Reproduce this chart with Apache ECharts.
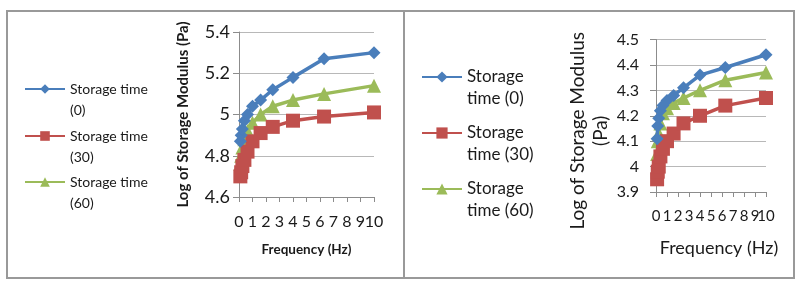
<!DOCTYPE html>
<html>
<head>
<meta charset="utf-8">
<style>
  html, body { margin: 0; padding: 0; background: #fff; }
  #chart { width: 800px; height: 288px; }
</style>
<script src="https://cdn.jsdelivr.net/npm/echarts@6/dist/echarts.min.js"></script>
</head>
<body>
<div id="chart"></div>
<script>
// frequency sweep points (Hz)
var freq = [0.1, 0.16, 0.25, 0.4, 0.63, 1, 1.6, 2.5, 4, 6.3, 10];
var seriesNames = ['Storage time (0)', 'Storage time (30)', 'Storage time (60)'];
var xTicks = [0, 1, 2, 3, 4, 5, 6, 7, 8, 9, 10];

// left panel
var leftT0 = [4.87, 4.90, 4.93, 4.97, 5.00, 5.04, 5.07, 5.12, 5.18, 5.27, 5.30];
var leftT30 = [4.70, 4.72, 4.75, 4.78, 4.82, 4.87, 4.91, 4.94, 4.97, 4.99, 5.01];
var leftT60 = [4.76, 4.80, 4.84, 4.88, 4.92, 4.96, 5.00, 5.04, 5.07, 5.10, 5.14];
var leftYTicks = [4.6, 4.8, 5, 5.2, 5.4];

// right panel
var rightT0 = [4.11, 4.16, 4.19, 4.22, 4.24, 4.26, 4.28, 4.31, 4.36, 4.39, 4.44];
var rightT30 = [3.95, 3.98, 4.00, 4.04, 4.07, 4.10, 4.13, 4.17, 4.20, 4.24, 4.27];
var rightT60 = [4.05, 4.10, 4.13, 4.17, 4.21, 4.23, 4.25, 4.27, 4.30, 4.34, 4.37];
var rightYTicks = [3.9, 4, 4.1, 4.2, 4.3, 4.4, 4.5];

var colors = ['#4a7ebb', '#c0504d', '#9bbb59'];
var symbols = ['diamond', 'rect', 'triangle'];
var symbolSizes = [13, 14, 14];
var font = 'Lato, "Open Sans", sans-serif';
var textColor = '#1a1a1a';

function pairs(ys) {
  return ys.map(function (y, i) { return [freq[i], y]; });
}

// parity 0 = main axis (line, ticks, even labels); parity 1 = overlay carrying only the odd labels,
// so that ECharts' overlap hiding keeps every label of the tightly packed axis
function xAxisFor(gridIndex, parity, labelSize, labelMargin, nameStyle, gap, name) {
  var main = parity === 0;
  return {
    type: 'value', gridIndex: gridIndex, position: 'bottom', min: 0, max: 10, interval: 1,
    name: main ? name : '', nameLocation: 'middle', nameGap: gap,
    nameTextStyle: nameStyle,
    splitLine: { show: false },
    axisLine: { show: main, onZero: false, lineStyle: { color: '#8c8c8c', width: 1 } },
    axisTick: { show: main, length: 5, lineStyle: { color: '#8c8c8c' } },
    axisLabel: {
      fontFamily: font, fontSize: labelSize, color: textColor, margin: labelMargin,
      hideOverlap: false, showMinLabel: true, showMaxLabel: true,
      formatter: function (v) {
        var k = Math.round(v);
        return xTicks.indexOf(k) >= 0 && k % 2 === parity ? String(k) : '';
      }
    }
  };
}

function yAxisFor(gridIndex, ticks, interval, name, labelSize, nameStyle, gap, margin) {
  return {
    type: 'value', gridIndex: gridIndex,
    min: ticks[0], max: ticks[ticks.length - 1], interval: interval,
    name: name, nameLocation: 'middle', nameGap: gap,
    nameTextStyle: nameStyle,
    axisLine: { show: true, lineStyle: { color: '#8c8c8c', width: 1 } },
    axisTick: { show: true, length: 6, lineStyle: { color: '#8c8c8c' } },
    splitLine: { show: true, lineStyle: { color: '#b8b8b8', width: 1 } },
    axisLabel: {
      fontFamily: font, fontSize: labelSize, color: textColor, margin: margin,
      formatter: function (v) { return String(+v.toFixed(1)); }
    }
  };
}

var leftData = [leftT0, leftT30, leftT60];
var rightData = [rightT0, rightT30, rightT60];
var series = [];
[leftData, rightData].forEach(function (set, panel) {
  set.forEach(function (ys, i) {
    series.push({
      name: seriesNames[i], type: 'line',
      xAxisIndex: panel, yAxisIndex: panel,
      data: pairs(ys),
      symbol: symbols[i], symbolSize: symbolSizes[i],
      showAllSymbol: true,
      lineStyle: { color: colors[i], width: 3.5 },
      itemStyle: { color: colors[i] },
      z: 3 - i
    });
  });
});

// one legend per entry; a leading blank line keeps the marker on the first text line
var legends = [];
var leftLegendY = [89, 136, 182];
var rightLegendY = [77, 133, 189];
seriesNames.forEach(function (n, i) {
  var lh = 21;
  legends.push({
    data: [n], left: 24, top: leftLegendY[i] - 1.5 * lh, padding: 0,
    itemWidth: 40, itemHeight: 12, itemGap: 0,
    textStyle: { fontFamily: font, fontSize: 14, color: textColor, lineHeight: lh },
    formatter: function (name) { return '\n' + name.replace(' (', '\n('); }
  });
});
seriesNames.forEach(function (n, i) {
  var lh = 22;
  legends.push({
    data: [n], left: 421, top: rightLegendY[i] - 1.5 * lh, padding: 0,
    itemWidth: 40, itemHeight: 14, itemGap: 0,
    textStyle: { fontFamily: font, fontSize: 17, color: textColor, lineHeight: lh },
    formatter: function (name) { return '\n' + name.replace('Storage ', 'Storage\n'); }
  });
});

var leftXName = { fontFamily: font, fontSize: 13.5, fontWeight: 'bold', color: textColor };
var rightXName = { fontFamily: font, fontSize: 18, color: textColor,
  rich: { a: { fontFamily: font, fontSize: 18, color: textColor, padding: [0, 0, 0, 16] } } };

var chart = echarts.init(document.getElementById('chart'), null, { renderer: 'canvas' });
chart.setOption({
  animation: false,
  backgroundColor: '#fff',
  legend: legends,
  grid: [
    { left: 239, top: 32, width: 135, height: 165 },
    { left: 656, top: 32, width: 110, height: 160 }
  ],
  xAxis: [
    xAxisFor(0, 0, 16, 17, leftXName, 46, 'Frequency (Hz)'),
    xAxisFor(1, 0, 15, 17, rightXName, 47, '{a|Frequency (Hz)}'),
    xAxisFor(0, 1, 16, 17, leftXName, 46, ''),
    xAxisFor(1, 1, 15, 17, rightXName, 47, '')
  ],
  yAxis: [
    yAxisFor(0, leftYTicks, 0.2, 'Log of Storage Modulus (Pa)', 18,
      { fontFamily: font, fontSize: 15, fontWeight: 'bold', color: textColor }, 48, 9),
    yAxisFor(1, rightYTicks, 0.1, '{a|Log of Storage Modulus}\n{a|(Pa)}', 16,
      { fontFamily: font, fontSize: 19, color: textColor, lineHeight: 23,
        rich: { a: { fontFamily: font, fontSize: 19, color: textColor, lineHeight: 23, padding: [0, 30, 0, 0] } } }, 44, 17)
  ],
  series: series,
  graphic: [
    { type: 'rect', shape: { x: 7, y: 11, width: 787, height: 267 }, style: { fill: 'none', stroke: '#999', lineWidth: 2 }, silent: true },
    { type: 'line', shape: { x1: 404, y1: 11, x2: 404, y2: 278 }, style: { stroke: '#999', lineWidth: 2 }, silent: true }
  ]
});
</script>
</body>
</html>
